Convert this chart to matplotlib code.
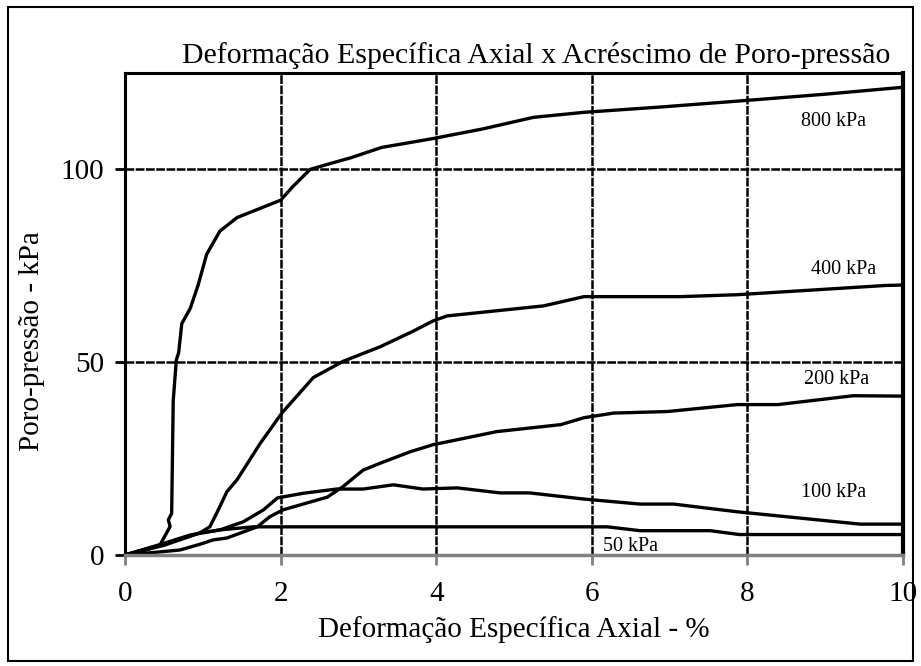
import matplotlib
matplotlib.use("Agg")
import matplotlib.pyplot as plt
from matplotlib.patches import Rectangle

plt.rcParams["font.family"] = ["Liberation Serif", "DejaVu Serif"]

# curvas de poro-pressao x deformacao axial
x800 = [0, 0.3, 0.45, 0.51, 0.58, 0.557, 0.6, 0.62, 0.66, 0.69, 0.73, 0.84, 0.94, 1.05, 1.22, 1.44, 1.7, 2.0,
        2.16, 2.38, 2.6, 2.9, 3.3, 3.96, 4.6, 5.25, 5.9, 6.9, 7.87, 9.0, 10]
y800 = [0, 1.5, 2.6, 4.8, 7.4, 9.1, 10.8, 40, 50.6, 52.5, 60, 64, 70, 78, 84, 87.5, 89.6, 92,
        95.6, 100, 101.3, 103, 105.7, 108, 110.5, 113.5, 114.8, 116.2, 117.7, 119.5, 121.3]

x400 = [0, 0.5, 0.96, 1.09, 1.18, 1.31, 1.44, 1.74, 2.02, 2.42, 2.8, 3.28, 3.7, 3.96, 4.14, 5.38, 5.9,
        7.14, 7.87, 9.78, 10]
y400 = [0, 2.5, 5.7, 7.3, 10.9, 16.4, 19.5, 29, 36.9, 46, 50.2, 54, 58, 60.7, 62, 64.6, 67,
        67, 67.5, 69.9, 70]

x200 = [0, 0.45, 0.71, 1.0, 1.13, 1.31, 1.7, 1.86, 2.03, 2.6, 2.8, 3.06, 3.28, 3.67, 3.96, 4.78, 5.6,
        5.9, 6.28, 6.97, 7.87, 8.39, 9.36, 10]
y200 = [0, 0.8, 1.3, 3, 3.9, 4.4, 7.3, 9.9, 11.7, 15, 17.7, 22, 23.8, 26.8, 28.6, 32, 33.8,
        35.6, 36.8, 37.2, 39, 39, 41.3, 41.2]

x100 = [0, 0.5, 0.84, 1.22, 1.52, 1.78, 1.96, 2.29, 2.72, 3.06, 3.45, 3.83, 4.27, 4.82, 5.2, 5.9,
        6.62, 7.05, 7.87, 9.45, 10]
y100 = [0, 3, 5.2, 6.5, 8.6, 11.7, 14.8, 16, 17.1, 17.1, 18.2, 17.1, 17.4, 16.1, 16.1, 14.5,
        13.2, 13.2, 11.2, 8, 8]

x50 = [0, 0.45, 0.96, 1.22, 1.65, 6.2, 6.62, 7.52, 7.9, 10]
y50 = [0, 2.6, 5.7, 6.5, 7.3, 7.3, 6.3, 6.3, 5.3, 5.3]

labels = ["800 kPa", "400 kPa", "200 kPa", "100 kPa", "50 kPa"]
label_x = [9.1, 9.23, 9.14, 9.11, 6.5]
label_y = [112.5, 74, 45.5, 16.1, 2.1]

fig = plt.figure(figsize=(9.21, 6.66), dpi=100)
ax = fig.add_axes([0.1357, 0.1667, 0.8448, 0.7237])

ax.set_xlim(0, 10)
ax.set_ylim(0, 125)
ax.set_xticks([0, 2, 4, 6, 8, 10])
ax.set_yticks([0, 50, 100])

ax.grid(True, color="black", linestyle=(0, (3.5, 0.6)), linewidth=1.8)
ax.set_axisbelow(True)

for xs, ys in [(x800, y800), (x400, y400), (x200, y200), (x100, y100), (x50, y50)]:
    ax.plot(xs, ys, color="black", linewidth=2.4, solid_joinstyle="round", solid_capstyle="round",
            clip_on=False, zorder=3)

for t, lx, ly in zip(labels, label_x, label_y):
    ax.text(lx, ly, t, fontsize=14.5, ha="center", va="center")

ax.spines["left"].set_linewidth(2.2)
ax.spines["top"].set_linewidth(2.2)
ax.spines["right"].set_linewidth(3)
ax.spines["bottom"].set_linewidth(2.5)
ax.spines["bottom"].set_color("#808080")
ax.spines["bottom"].set_zorder(4)

ax.tick_params(axis="x", direction="out", length=7, width=2, color="#808080", labelsize=21, pad=12)
ax.tick_params(axis="y", direction="out", length=7, width=2, color="black", labelsize=21, pad=8)

fig.text(536 / 921, 1 - 63 / 666, "Deformação Específica Axial x Acréscimo de Poro-pressão",
         fontsize=21.5, ha="center", va="baseline")
ax.set_xlabel("Deformação Específica Axial - %", fontsize=21, labelpad=6)
ax.set_ylabel("Poro-pressão - kPa", fontsize=21)
ax.yaxis.set_label_coords((45 - 125) / 778, (555 - 341) / 482)

fig.patches.append(Rectangle((0.009, 0.007), 0.982, 0.982, transform=fig.transFigure,
                             fill=False, edgecolor="black", linewidth=1.5))

fig.savefig("out.png", dpi=100)
